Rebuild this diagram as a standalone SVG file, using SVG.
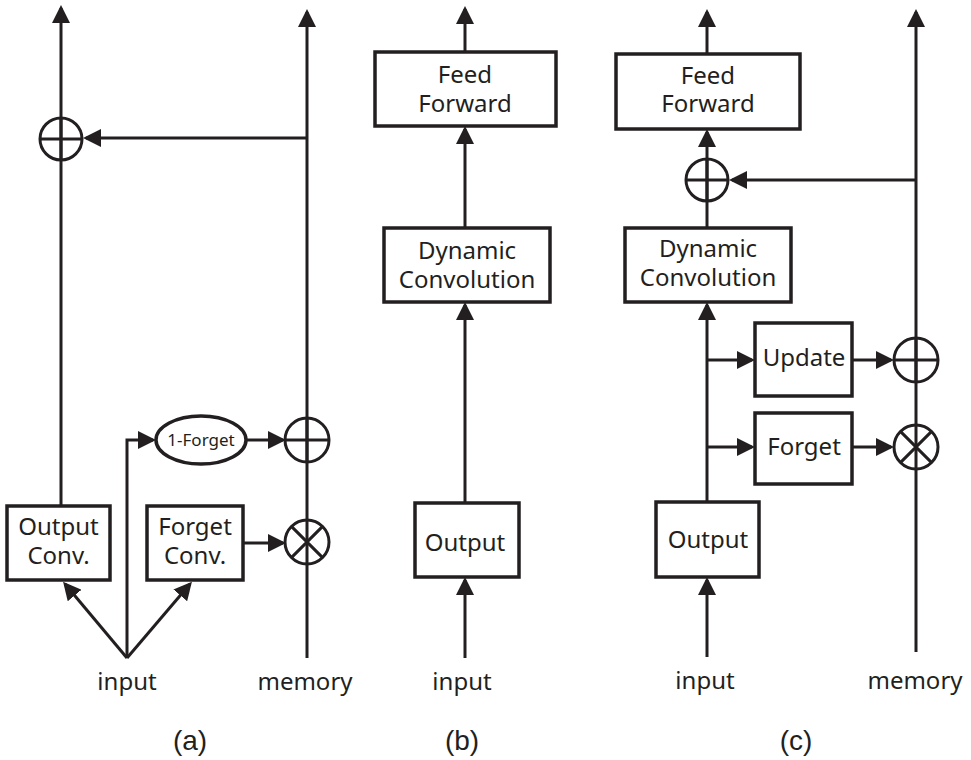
<svg xmlns="http://www.w3.org/2000/svg" width="971" height="760" viewBox="0 0 971 760">
<defs>
<style>
.ln{fill:none;stroke:#231f20;stroke-width:3}
.bx{fill:#fff;stroke:#231f20;stroke-width:3.5}
.op{fill:none;stroke:#231f20;stroke-width:3}
.t{font-family:"Noto Sans","Open Sans",sans-serif;font-size:24px;fill:#231f20;text-anchor:middle}
.s{font-size:17px}
.cap{font-family:"Liberation Sans",Arial,sans-serif;font-size:28px;fill:#231f20;text-anchor:middle}
</style>
<marker id="ah" markerUnits="userSpaceOnUse" markerWidth="18" markerHeight="18" refX="15" refY="9" orient="auto">
<path d="M0,0 L18,9 L0,18 Z" fill="#231f20"/>
</marker>
</defs>
<rect width="971" height="760" fill="#fff"/>

<g id="connectors">
<!-- (a) -->
<path class="ln" d="M61,506 V8" marker-end="url(#ah)"/>
<path class="ln" d="M307,658 V12" marker-end="url(#ah)"/>
<path class="ln" d="M307,138 H86" marker-end="url(#ah)"/>
<path class="ln" d="M127,658 V440 H153" marker-end="url(#ah)"/>
<path class="ln" d="M127,658 L65,584" marker-end="url(#ah)"/>
<path class="ln" d="M127,658 L190,584" marker-end="url(#ah)"/>
<path class="ln" d="M246,440 H283" marker-end="url(#ah)"/>
<path class="ln" d="M243,543 H283" marker-end="url(#ah)"/>
<!-- (b) -->
<path class="ln" d="M465,52 V9" marker-end="url(#ah)"/>
<path class="ln" d="M465,228 V129" marker-end="url(#ah)"/>
<path class="ln" d="M465,503 V305" marker-end="url(#ah)"/>
<path class="ln" d="M465,658 V580" marker-end="url(#ah)"/>
<!-- (c) -->
<path class="ln" d="M707,54 V12" marker-end="url(#ah)"/>
<path class="ln" d="M707,228 V132" marker-end="url(#ah)"/>
<path class="ln" d="M916,180 H732" marker-end="url(#ah)"/>
<path class="ln" d="M707,502 V305" marker-end="url(#ah)"/>
<path class="ln" d="M707,360 H752" marker-end="url(#ah)"/>
<path class="ln" d="M707,447 H752" marker-end="url(#ah)"/>
<path class="ln" d="M852,360 H891" marker-end="url(#ah)"/>
<path class="ln" d="M852,447 H891" marker-end="url(#ah)"/>
<path class="ln" d="M707,657 V580" marker-end="url(#ah)"/>
<path class="ln" d="M916,652 V12" marker-end="url(#ah)"/>
</g>

<!-- panel (a) nodes -->
<g id="a-plus-top">
<circle class="op" cx="61" cy="139" r="21"/>
<path class="op" d="M40,139 H82 M61,118 V160"/>
</g>
<g id="a-output-conv">
<rect class="bx" x="7" y="506" width="103" height="74"/>
<text class="t" x="58.5" y="535">Output</text>
<text class="t" x="58.5" y="564">Conv.</text>
</g>
<g id="a-forget-conv">
<rect class="bx" x="147" y="506" width="96" height="74"/>
<text class="t" x="195" y="535">Forget</text>
<text class="t" x="195" y="564">Conv.</text>
</g>
<g id="a-one-minus-forget">
<ellipse class="bx" cx="201" cy="440" rx="45" ry="24"/>
<text class="t s" x="201" y="446">1-Forget</text>
</g>
<g id="a-plus-mem">
<circle class="op" cx="307" cy="440" r="22"/>
<path class="op" d="M285,440 H329 M307,418 V462"/>
</g>
<g id="a-times-mem">
<circle class="op" cx="307" cy="542" r="22"/>
<path class="op" d="M291.4,526.4 L322.6,557.6 M322.6,526.4 L291.4,557.6"/>
</g>
<g id="a-labels">
<text class="t" x="127" y="690">input</text>
<text class="t" x="305" y="690">memory</text>
<text class="cap" x="190" y="750">(a)</text>
</g>

<!-- panel (b) nodes -->
<g id="b-feed-forward">
<rect class="bx" x="375" y="52" width="181" height="74"/>
<text class="t" x="465" y="83">Feed</text>
<text class="t" x="465" y="112">Forward</text>
</g>
<g id="b-dynamic-conv">
<rect class="bx" x="384" y="228" width="166" height="74"/>
<text class="t" x="467" y="259">Dynamic</text>
<text class="t" x="467" y="288">Convolution</text>
</g>
<g id="b-output">
<rect class="bx" x="415" y="503" width="104" height="74"/>
<text class="t" x="465" y="551">Output</text>
</g>
<g id="b-labels">
<text class="t" x="462" y="690">input</text>
<text class="cap" x="462" y="750">(b)</text>
</g>

<!-- panel (c) nodes -->
<g id="c-feed-forward">
<rect class="bx" x="616" y="54" width="184" height="75"/>
<text class="t" x="708" y="84">Feed</text>
<text class="t" x="708" y="112">Forward</text>
</g>
<g id="c-plus-top">
<circle class="op" cx="707" cy="180" r="21"/>
<path class="op" d="M686,180 H728 M707,159 V201"/>
</g>
<g id="c-dynamic-conv">
<rect class="bx" x="625" y="228" width="166" height="74"/>
<text class="t" x="708" y="257">Dynamic</text>
<text class="t" x="708" y="286">Convolution</text>
</g>
<g id="c-update">
<rect class="bx" x="755" y="323" width="97" height="73"/>
<text class="t" x="804" y="366">Update</text>
</g>
<g id="c-forget">
<rect class="bx" x="755" y="413" width="97" height="71"/>
<text class="t" x="804" y="455">Forget</text>
</g>
<g id="c-output">
<rect class="bx" x="656" y="502" width="103" height="75"/>
<text class="t" x="708" y="548">Output</text>
</g>
<g id="c-plus-mem">
<circle class="op" cx="916" cy="360" r="22"/>
<path class="op" d="M894,360 H938 M916,338 V382"/>
</g>
<g id="c-times-mem">
<circle class="op" cx="916" cy="447" r="22"/>
<path class="op" d="M900.4,431.4 L931.6,462.6 M931.6,431.4 L900.4,462.6"/>
</g>
<g id="c-labels">
<text class="t" x="705" y="689">input</text>
<text class="t" x="915" y="689">memory</text>
<text class="cap" x="796" y="750">(c)</text>
</g>
</svg>
